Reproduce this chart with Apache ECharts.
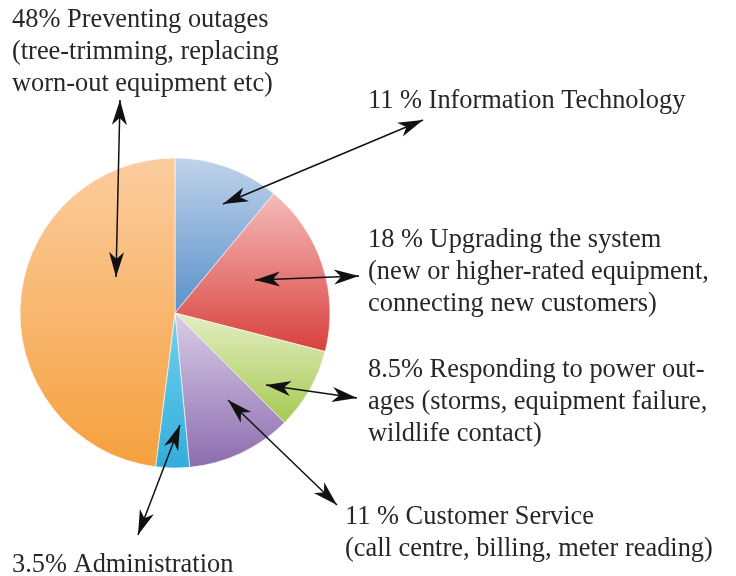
<!DOCTYPE html>
<html>
<head>
<meta charset="utf-8">
<script src="https://cdn.jsdelivr.net/npm/echarts@6/dist/echarts.min.js"></script>
<style>html,body{margin:0;padding:0;background:#fff}#c{width:736px;height:576px}</style>
</head>
<body>
<div id="c"></div>
<script>
// Data (clockwise from 12 o'clock)
const categories = ['Information Technology', 'Upgrading the system', 'Responding to power outages', 'Customer Service', 'Administration', 'Preventing outages'];
const values = [11, 18, 8.5, 11, 3.5, 48];
const labelTexts = [
  '11 % Information Technology',
  '18 % Upgrading the system\n(new or higher-rated equipment,\nconnecting new customers)',
  '8.5% Responding to power out-\nages (storms, equipment failure,\nwildlife contact)',
  '11 % Customer Service\n(call centre, billing, meter reading)',
  '3.5% Administration',
  '48% Preventing outages\n(tree-trimming, replacing\nworn-out equipment etc)'
];

// styling
const gradients = [
  ['#c0d3ea', '#5a91cb'],
  ['#f5bcba', '#d8403d'],
  ['#e4eec3', '#a6ca52'],
  ['#dacde8', '#8d6cae'],
  ['#72d2ef', '#33acda'],
  ['#fccd9f', '#f5a03e']
];
const labelPos = [[368, 85], [368, 224], [368, 354], [345, 501], [12, 549], [12, 4]];
const arrows = [
  [[223, 204], [423, 120]],
  [[255, 280], [359, 276]],
  [[266, 385], [357, 398]],
  [[228, 400], [337, 505]],
  [[180, 425], [138, 535]],
  [[116, 277], [120, 100]]
];

function head(tip, from) {
  const dx = tip[0] - from[0], dy = tip[1] - from[1];
  const L = Math.hypot(dx, dy), ux = dx / L, uy = dy / L;
  const px = -uy, py = ux;
  const len = 25, w = 7.5, notch = 18;
  return [
    tip,
    [tip[0] - ux * len + px * w, tip[1] - uy * len + py * w],
    [tip[0] - ux * notch, tip[1] - uy * notch],
    [tip[0] - ux * len - px * w, tip[1] - uy * len - py * w]
  ];
}

const graphics = [];
arrows.forEach(a => {
  const [p, q] = a;
  graphics.push({type: 'line', shape: {x1: p[0], y1: p[1], x2: q[0], y2: q[1]}, style: {stroke: '#111', lineWidth: 1.5}, z: 10});
  graphics.push({type: 'polygon', shape: {points: head(p, q)}, style: {fill: '#111'}, z: 10});
  graphics.push({type: 'polygon', shape: {points: head(q, p)}, style: {fill: '#111'}, z: 10});
});
labelTexts.forEach((t, i) => {
  graphics.push({type: 'text', left: labelPos[i][0], top: labelPos[i][1], z: 10,
    style: {text: t, font: '26.4px "Liberation Serif", serif', fill: '#2a2627', lineHeight: 32}});
});

const chart = echarts.init(document.getElementById('c'), null, {renderer: 'canvas'});
chart.setOption({
  animation: false,
  backgroundColor: '#fff',
  series: [{
    type: 'pie',
    center: [175, 313],
    radius: [0, 155],
    startAngle: 90,
    clockwise: true,
    label: {show: false},
    labelLine: {show: false},
    emphasis: {disabled: true},
    itemStyle: {borderColor: 'rgba(255,255,255,0.6)', borderWidth: 1},
    data: categories.map((c, i) => ({
      name: c, value: values[i],
      itemStyle: {color: new echarts.graphic.LinearGradient(0, 0, 0, 1, [
        {offset: 0, color: gradients[i][0]}, {offset: 1, color: gradients[i][1]}])}
    }))
  }],
  graphic: graphics
});
</script>
</body>
</html>
